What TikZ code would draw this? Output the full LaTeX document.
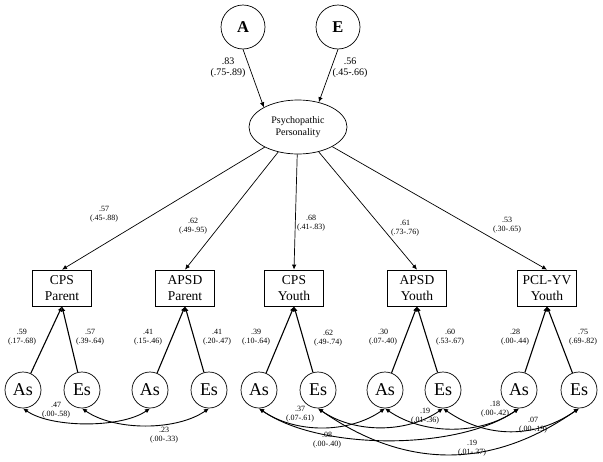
\documentclass[tikz,border=0pt]{standalone}
\usepackage{fontspec}
\setmainfont{Liberation Serif}
\usetikzlibrary{shapes.geometric,arrows.meta}
\tikzset{>={Latex[length=5pt,width=4.5pt]}}
\tikzset{%
    coef/.style={align=center, font=\fontsize{8}{9.5}\selectfont, inner sep=0pt}
}

\begin{document}
\begin{tikzpicture}[x=1pt,y=-1pt,
    latent/.style={draw, line width=0.7pt, circle, minimum size=44pt, inner sep=0pt, font=\fontsize{16.5}{18}\selectfont\bfseries},
    facet/.style={draw, line width=0.7pt, circle, minimum size=36pt, inner sep=0pt, font=\fontsize{18}{20}\selectfont},
    measure/.style={draw, line width=0.7pt, minimum width=59pt, minimum height=36pt, inner sep=0pt, align=center, font=\fontsize{13.5}{16.5}\selectfont},
    toparrow/.style={->, line width=0.7pt},
    facetarrow/.style={->, line width=1.1pt},
    covarrow/.style={<->, line width=0.9pt}]
\useasboundingbox (0,0) rectangle (603,461);

\node[latent] (A) at (243,27) {A};
\node[latent] (E) at (338,27) {E};
\node[draw, line width=0.7pt, ellipse, minimum width=98pt, minimum height=54pt, inner sep=0pt, align=center, font=\fontsize{10}{12.5}\selectfont] (psy) at (298,127) {Psychopathic\\Personality};

\node[measure] (cpsp) at (62,288) {CPS\\Parent};
\node[measure] (apsdp) at (185,288) {APSD\\Parent};
\node[measure] (cpsy) at (294,288) {CPS\\Youth};
\node[measure] (apsdy) at (417,288) {APSD\\Youth};
\node[measure] (pcly) at (547,288) {PCL-YV\\Youth};

\node[facet] (asCP) at (23,390) {As};
\node[facet] (esCP) at (82,390) {Es};
\node[facet] (asAP) at (150,390) {As};
\node[facet] (esAP) at (209,390) {Es};
\node[facet] (asCY) at (259,390) {As};
\node[facet] (esCY) at (318,390) {Es};
\node[facet] (asAY) at (385,390) {As};
\node[facet] (esAY) at (443,390) {Es};
\node[facet] (asPY) at (519,390) {As};
\node[facet] (esPY) at (579,390) {Es};

% A and E to the latent factor
\draw[toparrow] (A.south) -- (psy.150);
\draw[toparrow] (E.south) -- (psy.50);
\node[coef, font=\fontsize{10}{11}\selectfont] (cA) at (228,68) {.83\\(.75-.89)};
\node[coef, font=\fontsize{10}{11}\selectfont] (cE) at (350,68) {.56\\(.45-.66)};

% factor loadings
\draw[toparrow] (psy) -- (cpsp.north);
\draw[toparrow] (psy) -- (apsdp.north);
\draw[toparrow] (psy) -- (cpsy.north);
\draw[toparrow] (psy) -- (apsdy.north);
\draw[toparrow] (psy) -- (pcly.north);
\node[coef] (l1) at (104,214) {.57\\(.45-.88)};
\node[coef] (l2) at (193,226) {.62\\(.49-.95)};
\node[coef] (l3) at (311,223) {.68\\(.41-.83)};
\node[coef] (l4) at (405,228) {.61\\(.73-.76)};
\node[coef] (l5) at (507,225) {.53\\(.30-.65)};

% As and Es to the measures
\draw[facetarrow] (asCP) -- (cpsp.south);
\draw[facetarrow] (esCP) -- (cpsp.south);
\draw[facetarrow] (asAP) -- (apsdp.south);
\draw[facetarrow] (esAP) -- (apsdp.south);
\draw[facetarrow] (asCY) -- (cpsy.south);
\draw[facetarrow] (esCY) -- (cpsy.south);
\draw[facetarrow] (asAY) -- (apsdy.south);
\draw[facetarrow] (esAY) -- (apsdy.south);
\draw[facetarrow] (asPY) -- (pcly.south);
\draw[facetarrow] (esPY) -- (pcly.south);
\node[coef] (f1) at (22,337) {.59\\(.17-.68)};
\node[coef] (f2) at (90,337) {.57\\(.39-.64)};
\node[coef] (f3) at (148,337) {.41\\(.15-.46)};
\node[coef] (f4) at (217,337) {.41\\(.20-.47)};
\node[coef] (f5) at (256,337) {.39\\(.10-.64)};
\node[coef] (f6) at (328,338) {.62\\(.49-.74)};
\node[coef] (f7) at (383,337) {.30\\(.07-.40)};
\node[coef] (f8) at (450,337) {.60\\(.53-.67)};
\node[coef] (f9) at (515,337) {.28\\(.00-.44)};
\node[coef] (f10) at (583,337) {.75\\(.69-.82)};

% correlations
\draw[covarrow] (asCP.south) to[bend right=35, looseness=0.7] (asAP.south);
\draw[covarrow] (esCP.south) to[bend right=35, looseness=0.8] (esAP.south);
\draw[covarrow] (asCY.south) to[bend right=35, looseness=0.9] (asAY.south);
\draw[covarrow] (esCY.south) to[bend right=35, looseness=0.9] (esAY.south);
\draw[covarrow] (asAY.south) to[bend right=35, looseness=0.9] (asPY.south);
\draw[covarrow] (esAY.south) to[bend right=35, looseness=1.0] (esPY.south);
\draw[covarrow] (asCY.south) to[bend right=35, looseness=0.73] (asPY.south);
\draw[covarrow] (esCY.south) to[bend right=35, looseness=1.05] (esPY.south);
\node[coef] (r1) at (56,410) {.47\\(.00-.58)};
\node[coef] (r2) at (164,435) {.23\\(.00-.33)};
\node[coef] (r3) at (300,414) {.37\\(.07-.61)};
\node[coef] (r4) at (327,440) {.08\\(.00-.40)};
\node[coef] (r5) at (425,416) {.19\\(.01-.36)};
\node[coef] (r6) at (495,409) {.18\\(.00-.42)};
\node[coef] (r7) at (533,425) {.07\\(.00-.19)};
\node[coef] (r8) at (472,448) {.19\\(.01-.37)};
\end{tikzpicture}
\end{document}
